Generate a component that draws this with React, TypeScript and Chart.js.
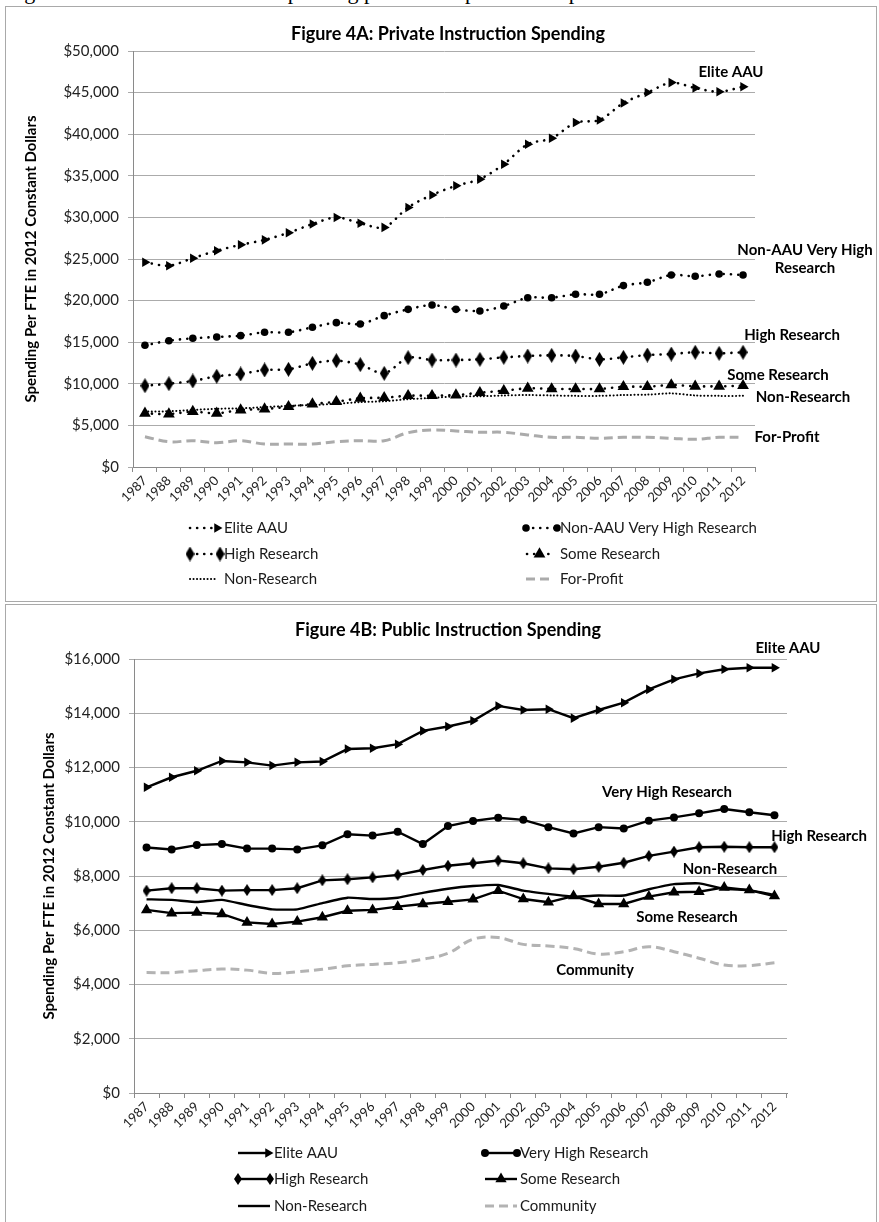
import React, { useEffect, useRef } from "react";
import { Chart, registerables } from "chart.js";

Chart.register(...registerables);

const FONT = "Lato, 'Open Sans', sans-serif";

const years = [
  "1987", "1988", "1989", "1990", "1991", "1992", "1993", "1994", "1995",
  "1996", "1997", "1998", "1999", "2000", "2001", "2002", "2003", "2004",
  "2005", "2006", "2007", "2008", "2009", "2010", "2011", "2012",
];

// Figure 4A: Private
const privEliteAAU = [24600, 24200, 25100, 26000, 26700, 27300, 28150, 29200, 30000, 29300, 28800, 31200, 32700, 33800, 34600, 36400, 38800, 39500, 41400, 41700, 43750, 45000, 46200, 45550, 45100, 45700];
const privNonAAUVeryHigh = [14630, 15180, 15470, 15630, 15790, 16190, 16190, 16790, 17350, 17190, 18190, 18950, 19470, 18950, 18750, 19350, 20350, 20350, 20760, 20760, 21800, 22200, 23080, 22920, 23200, 23080];
const privHighResearch = [9770, 10010, 10340, 10900, 11180, 11660, 11740, 12460, 12780, 12300, 11260, 13140, 12860, 12860, 12940, 13180, 13340, 13420, 13340, 12940, 13180, 13460, 13580, 13790, 13660, 13790];
const privSomeResearch = [6450, 6370, 6650, 6450, 6850, 6970, 7250, 7570, 7850, 8260, 8330, 8570, 8570, 8650, 8930, 9170, 9460, 9380, 9380, 9380, 9650, 9650, 9860, 9700, 9700, 9770];
const privNonResearch = [6650, 6700, 6850, 7000, 7050, 7200, 7350, 7450, 7600, 7800, 7900, 8150, 8300, 8500, 8500, 8600, 8650, 8600, 8550, 8550, 8650, 8700, 8850, 8600, 8550, 8550];
const privForProfit = [3640, 3040, 3160, 2920, 3160, 2760, 2760, 2760, 3040, 3160, 3160, 4120, 4450, 4330, 4170, 4170, 3850, 3570, 3570, 3450, 3570, 3570, 3450, 3330, 3570, 3570];

// Figure 4B: Public
const pubEliteAAU = [11270, 11640, 11880, 12240, 12190, 12070, 12190, 12220, 12680, 12710, 12860, 13350, 13510, 13720, 14270, 14120, 14150, 13820, 14120, 14390, 14880, 15250, 15470, 15620, 15680, 15680];
const pubVeryHighResearch = [9050, 8980, 9140, 9180, 9010, 9010, 8980, 9130, 9540, 9490, 9630, 9180, 9840, 10030, 10150, 10070, 9800, 9570, 9800, 9750, 10040, 10160, 10310, 10470, 10350, 10240];
const pubHighResearch = [7460, 7550, 7550, 7460, 7480, 7480, 7550, 7840, 7880, 7950, 8040, 8220, 8380, 8470, 8570, 8470, 8280, 8250, 8340, 8490, 8740, 8900, 9060, 9080, 9060, 9060];
const pubNonResearch = [7140, 7120, 7040, 7120, 6930, 6770, 6770, 7000, 7200, 7150, 7200, 7380, 7530, 7630, 7670, 7460, 7340, 7240, 7280, 7280, 7510, 7700, 7730, 7530, 7480, 7300];
const pubSomeResearch = [6750, 6630, 6650, 6600, 6290, 6230, 6320, 6480, 6720, 6750, 6870, 6970, 7050, 7140, 7460, 7150, 7030, 7260, 6970, 6970, 7240, 7400, 7420, 7580, 7480, 7260];
const pubCommunity = [4440, 4440, 4510, 4570, 4530, 4410, 4470, 4560, 4690, 4740, 4800, 4930, 5150, 5670, 5730, 5480, 5420, 5330, 5120, 5210, 5390, 5210, 4970, 4720, 4700, 4800];

type Mark = "end" | "both" | "mid" | "none";

function makeDiamond(w: number, h: number): HTMLCanvasElement {
  const c = document.createElement("canvas");
  c.width = w;
  c.height = h;
  const g = c.getContext("2d")!;
  g.fillStyle = "#000";
  g.beginPath();
  g.moveTo(w / 2, 0);
  g.lineTo(w, h / 2);
  g.lineTo(w / 2, h);
  g.lineTo(0, h / 2);
  g.closePath();
  g.fill();
  return c;
}

function drawMarker(ctx: CanvasRenderingContext2D, ds: any, x: number, y: number) {
  const style = ds.pointStyle;
  const r = ds.pointRadius || 0;
  if (style && typeof style !== "string") {
    ctx.drawImage(style, x - style.width / 2, y - style.height / 2);
    return;
  }
  if (!r) return;
  ctx.fillStyle = ds.pointBackgroundColor || "#000";
  ctx.beginPath();
  if (style === "triangle") {
    let rad = ((ds.pointRotation || 0) * Math.PI) / 180;
    for (let i = 0; i < 3; i++) {
      const px = x + Math.sin(rad) * r;
      const py = y - Math.cos(rad) * r;
      if (i === 0) ctx.moveTo(px, py);
      else ctx.lineTo(px, py);
      rad += (2 * Math.PI) / 3;
    }
    ctx.closePath();
  } else {
    ctx.arc(x, y, r, 0, Math.PI * 2);
  }
  ctx.fill();
}

const decorPlugin = {
  id: "decor",
  afterDraw(chart: any, _args: any, opts: any) {
    const ctx = chart.ctx as CanvasRenderingContext2D;
    ctx.save();
    ctx.fillStyle = "#000";
    ctx.textAlign = "center";
    ctx.textBaseline = "middle";
    ctx.font = `bold 18px ${FONT}`;
    ctx.fillText(opts.title, opts.titleX, opts.titleY);
    ctx.font = `bold 15px ${FONT}`;
    for (const l of opts.labels) ctx.fillText(l.text, l.x, l.y);
    for (const it of opts.legend) {
      const ds = chart.data.datasets[it.index];
      ctx.save();
      ctx.strokeStyle = ds.borderColor;
      ctx.lineWidth = ds.borderWidth;
      ctx.setLineDash(ds.borderDash || []);
      ctx.lineCap = ds.borderCapStyle || "butt";
      ctx.beginPath();
      ctx.moveTo(it.x, it.y);
      ctx.lineTo(it.x + it.len, it.y);
      ctx.stroke();
      ctx.restore();
      const m: Mark = it.marks;
      const xs = m === "both" ? [it.x, it.x + it.len] : m === "end" ? [it.x + it.len] : m === "mid" ? [it.x + it.len / 2] : [];
      xs.forEach((x: number) => drawMarker(ctx, ds, x, it.y));
      ctx.fillStyle = "#1a1a1a";
      ctx.textAlign = "left";
      ctx.font = `15px ${FONT}`;
      ctx.fillText(ds.label, it.textX, it.y);
    }
    ctx.restore();
  },
};

function dollar(v: any) {
  return "$" + Number(v).toLocaleString("en-US");
}

function axes(yMax: number, step: number, yWidth: number, titlePad: number) {
  return {
    x: {
      type: "category" as const,
      offset: true,
      afterFit: (s: any) => {
        s.height = 48;
      },
      grid: { display: true, drawOnChartArea: false, drawTicks: true, tickLength: 5, offset: true, color: "#8a8a8a" },
      border: { display: true, color: "#8a8a8a", width: 1 },
      ticks: { autoSkip: false, minRotation: 45, maxRotation: 45, padding: 1, color: "#222", font: { family: FONT, size: 13 } },
    },
    y: {
      min: 0,
      max: yMax,
      afterFit: (s: any) => {
        s.width = yWidth;
      },
      grid: { color: "#ababab", lineWidth: 1, tickLength: 5, drawTicks: true },
      border: { display: true, color: "#8a8a8a", width: 1 },
      ticks: { stepSize: step, padding: 9, color: "#222", font: { family: FONT, size: 15 }, callback: dollar },
      title: {
        display: true,
        text: "Spending Per FTE in 2012 Constant Dollars",
        color: "#000",
        font: { family: FONT, size: 15, weight: "bold" as const },
        padding: { top: titlePad, bottom: 0 },
      },
    },
  };
}

function privateConfig(): any {
  const tall = makeDiamond(9, 15);
  const dots = { borderColor: "#000", borderWidth: 2.6, borderDash: [0.1, 7], borderCapStyle: "round", tension: 0.3, pointBackgroundColor: "#000", pointBorderWidth: 0 };
  return {
    type: "line",
    data: {
      labels: years,
      datasets: [
        { label: "Elite AAU", data: privEliteAAU, ...dots, pointStyle: "triangle", pointRotation: 90, pointRadius: 5.5 },
        { label: "Non-AAU Very High Research", data: privNonAAUVeryHigh, ...dots, pointStyle: "circle", pointRadius: 3.8 },
        { label: "High Research", data: privHighResearch, ...dots, pointStyle: tall, pointRadius: 6 },
        { label: "Some Research", data: privSomeResearch, ...dots, pointStyle: "triangle", pointRadius: 6.8 },
        { label: "Non-Research", data: privNonResearch, borderColor: "#000", borderWidth: 2, borderDash: [0.1, 3.4], borderCapStyle: "round", tension: 0.3, pointRadius: 0 },
        { label: "For-Profit", data: privForProfit, borderColor: "#ababab", borderWidth: 3, borderDash: [9, 5], tension: 0.4, pointRadius: 0 },
      ],
    },
    options: {
      responsive: false,
      animation: false,
      events: [],
      layout: { padding: { left: 0, top: 44, right: 121, bottom: 86 } },
      scales: axes(50000, 5000, 127, 16),
      plugins: {
        legend: { display: false },
        tooltip: { enabled: false },
        decor: {
          title: "Figure 4A: Private Instruction Spending",
          titleX: 442,
          titleY: 27,
          labels: [
            { text: "Elite AAU", x: 725, y: 65 },
            { text: "Non-AAU Very High", x: 799, y: 243 },
            { text: "Research", x: 799, y: 261 },
            { text: "High Research", x: 786, y: 328 },
            { text: "Some Research", x: 772, y: 368 },
            { text: "Non-Research", x: 797, y: 390 },
            { text: "For-Profit", x: 781, y: 430 },
          ],
          legend: [
            { index: 0, x: 184, y: 521, len: 27, textX: 218, marks: "end" },
            { index: 1, x: 520, y: 521, len: 31, textX: 554, marks: "both" },
            { index: 2, x: 184, y: 547, len: 30, textX: 218, marks: "both" },
            { index: 3, x: 521, y: 547, len: 25, textX: 554, marks: "mid" },
            { index: 4, x: 184, y: 572, len: 28, textX: 218, marks: "none" },
            { index: 5, x: 520, y: 572, len: 28, textX: 554, marks: "none" },
          ],
        },
      },
    },
    plugins: [decorPlugin],
  };
}

function publicConfig(): any {
  const tall = makeDiamond(8, 12);
  const solid = { borderColor: "#000", borderWidth: 2.4, tension: 0, pointBackgroundColor: "#000", pointBorderWidth: 0 };
  return {
    type: "line",
    data: {
      labels: years,
      datasets: [
        { label: "Elite AAU", data: pubEliteAAU, ...solid, pointStyle: "triangle", pointRotation: 90, pointRadius: 5.5 },
        { label: "Very High Research", data: pubVeryHighResearch, ...solid, pointStyle: "circle", pointRadius: 4 },
        { label: "High Research", data: pubHighResearch, ...solid, pointStyle: tall, pointRadius: 6 },
        { label: "Some Research", data: pubSomeResearch, ...solid, pointStyle: "triangle", pointRadius: 6.5 },
        { label: "Non-Research", data: pubNonResearch, ...solid, tension: 0.15, pointRadius: 0 },
        { label: "Community", data: pubCommunity, borderColor: "#b3b3b3", borderWidth: 3, borderDash: [9, 5], tension: 0.4, pointRadius: 0 },
      ],
    },
    options: {
      responsive: false,
      animation: false,
      events: [],
      layout: { padding: { left: 0, top: 54, right: 89, bottom: 81 } },
      scales: axes(16000, 2000, 128, 34),
      plugins: {
        legend: { display: false },
        tooltip: { enabled: false },
        decor: {
          title: "Figure 4B: Public Instruction Spending",
          titleX: 442,
          titleY: 25,
          labels: [
            { text: "Elite AAU", x: 782, y: 43 },
            { text: "Very High Research", x: 661, y: 187 },
            { text: "High Research", x: 813, y: 231 },
            { text: "Non-Research", x: 724, y: 264 },
            { text: "Some Research", x: 681, y: 312 },
            { text: "Community", x: 589, y: 365 },
          ],
          legend: [
            { index: 0, x: 232, y: 548, len: 30, textX: 268, marks: "end" },
            { index: 1, x: 479, y: 548, len: 32, textX: 514, marks: "both" },
            { index: 2, x: 232, y: 574, len: 32, textX: 268, marks: "both" },
            { index: 3, x: 479, y: 574, len: 32, textX: 514, marks: "mid" },
            { index: 4, x: 232, y: 601, len: 32, textX: 268, marks: "none" },
            { index: 5, x: 479, y: 601, len: 32, textX: 514, marks: "none" },
          ],
        },
      },
    },
    plugins: [decorPlugin],
  };
}

function ChartCanvas({ make, width, height }: { make: () => any; width: number; height: number }) {
  const ref = useRef<HTMLCanvasElement | null>(null);
  useEffect(() => {
    if (!ref.current) return;
    const chart = new Chart(ref.current, make());
    return () => chart.destroy();
  }, []);
  return <canvas ref={ref} width={width} height={height} style={{ display: "block", width, height }} />;
}

export default function App() {
  return (
    <div style={{ position: "absolute", left: 0, top: 0, width: 879, height: 1222, overflow: "hidden", background: "#fff" }}>
      <div
        style={{
          position: "absolute",
          left: 6,
          top: -19,
          whiteSpace: "nowrap",
          fontFamily: "'Liberation Serif', serif",
          fontSize: 22,
          lineHeight: "22px",
          color: "#000",
        }}
      >
        Figure 4: Trends in instruction spending per FTE in private and public institutions
      </div>
      <div style={{ position: "absolute", left: 5, top: 6, width: 872, height: 596, border: "1px solid #a9a9a9", boxSizing: "border-box" }}>
        <ChartCanvas make={privateConfig} width={870} height={594} />
      </div>
      <div style={{ position: "absolute", left: 5, top: 604, width: 872, height: 640, border: "1px solid #a9a9a9", boxSizing: "border-box" }}>
        <ChartCanvas make={publicConfig} width={870} height={617} />
      </div>
    </div>
  );
}
